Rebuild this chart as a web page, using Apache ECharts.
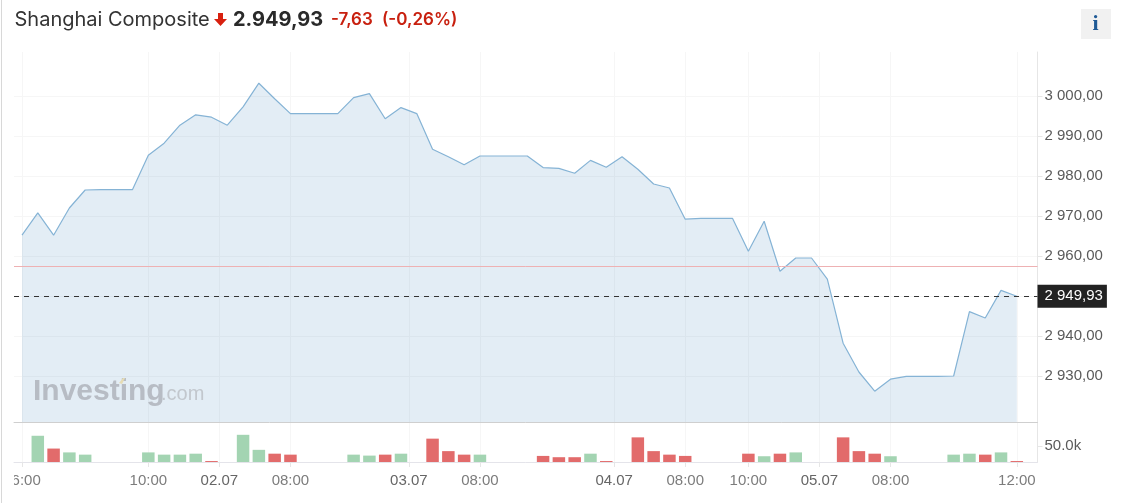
<!DOCTYPE html>
<html>
<head>
<meta charset="utf-8">
<style>html,body{margin:0;padding:0;background:#fff}#c{width:1122px;height:503px}</style>
<script src="https://cdn.jsdelivr.net/npm/echarts@6/dist/echarts.min.js"></script>
</head>
<body>
<div id="c"></div>
<script>
var prices = [2965.2,2970.8,2965.2,2972,2976.5,2976.6,2976.6,2976.6,2985.2,2988.2,2992.7,2995.3,2994.7,2992.7,2997.3,3003.2,2999.3,2995.6,2995.6,2995.6,2995.6,2999.6,3000.6,2994.3,2997.1,2995.6,2986.7,2984.8,2982.8,2985,2985,2985,2985,2982.1,2981.9,2980.7,2983.9,2982.2,2984.8,2981.7,2978,2977,2969.2,2969.4,2969.4,2969.4,2961.2,2968.7,2956.2,2959.5,2959.5,2954.2,2938.2,2931,2926.2,2929.2,2929.9,2929.9,2929.9,2930,2946.1,2944.5,2951.4,2949.93];
var volumes = [0,82,42,30,23,0,0,0,30,23,23,26,3,0,85,38,26,23,0,0,0,23,20,23,26,0,73,34,23,23,0,0,0,19,15,15,26,3,0,77,34,23,19,0,0,0,26,18,26,30,0,0,77,34,26,18,0,0,0,23,26,23,30,3];
var volumeUp = [0,1,0,1,1,0,0,0,1,1,1,1,0,0,1,1,0,0,0,0,0,1,1,0,1,0,0,0,0,1,0,0,0,0,0,0,1,0,0,0,0,0,0,0,0,0,0,1,0,1,0,0,0,0,0,1,0,0,0,1,1,0,1,0];
var xTickPositions = [0,8,12.5,17,24.5,29,37.5,42,46,50.5,55,63];
var xTickLabels = ['06:00','10:00','02.07','08:00','03.07','08:00','04.07','08:00','10:00','05.07','08:00','12:00'];
var priceTicks = [2930,2940,2950,2960,2970,2980,2990,3000];
var priceTickLabels = ['2 930,00','2 940,00','','2 960,00','2 970,00','2 980,00','2 990,00','3 000,00'];
var volumeTicks = [50];
var lastPrice = 2949.93;
var prevClose = 2957.56;

var FONT = '"Liberation Sans",Arial,sans-serif';
var X_MIN = -0.507, X_MAX = 64.31;
var GRID = '#f6f6f6', AXIS = '#e6e6e6';

var chart = echarts.init(document.getElementById('c'), null, {renderer:'canvas'});
chart.setOption({
  animation:false,
  backgroundColor:'#fff',
  grid:[
    {left:14, width:1023.5, top:52, height:370},
    {left:14, width:1023.5, top:423, height:39}
  ],
  xAxis:[
    {type:'value', gridIndex:0, min:X_MIN, max:X_MAX,
     axisLine:{show:true, onZero:false, lineStyle:{color:'#cfcfcf'}},
     axisTick:{show:false, customValues:xTickPositions},
     axisLabel:{show:false, customValues:xTickPositions},
     splitLine:{show:true, lineStyle:{color:GRID}}},
    {type:'value', gridIndex:1, min:X_MIN, max:X_MAX,
     axisLine:{show:true, onZero:false, lineStyle:{color:'#e4e4ea'}},
     axisTick:{show:true, length:5, lineStyle:{color:AXIS}, customValues:xTickPositions},
     axisLabel:{show:true, customValues:xTickPositions, margin:11, hideOverlap:false,
       showMinLabel:true, showMaxLabel:true,
       fontFamily:FONT, fontSize:15,
       formatter:function(v){
         var t = xTickLabels[xTickPositions.indexOf(v)];
         return t.indexOf('.')>0 ? '{d|'+t+'}' : t;
       },
       color:'#7c7c7c',
       rich:{d:{color:'#666', fontFamily:FONT, fontSize:15}}},
     splitLine:{show:true, lineStyle:{color:GRID}}}
  ],
  yAxis:[
    {type:'value', gridIndex:0, position:'right', min:2918.5, max:3011,
     axisLine:{show:true, onZero:false, lineStyle:{color:AXIS}},
     axisTick:{show:true, length:5, lineStyle:{color:AXIS}, customValues:priceTicks},
     axisLabel:{show:true, customValues:priceTicks, margin:7, fontFamily:FONT, fontSize:15, color:'#5a5a5a', padding:[3,0,0,0],
       formatter:function(v){return priceTickLabels[priceTicks.indexOf(v)];}},
     splitLine:{show:true, lineStyle:{color:GRID}}},
    {type:'value', gridIndex:1, position:'right', min:0, max:121.9,
     axisLine:{show:true, onZero:false, lineStyle:{color:AXIS}},
     axisTick:{show:true, length:5, lineStyle:{color:AXIS}, customValues:volumeTicks},
     axisLabel:{show:true, customValues:volumeTicks, margin:7, fontFamily:FONT, fontSize:15, color:'#5a5a5a', padding:[3,0,0,0],
       formatter:function(v){return v.toFixed(1)+'k';}},
     splitLine:{show:false}}
  ],
  series:[
    {type:'line', xAxisIndex:0, yAxisIndex:0, symbol:'none', silent:true,
     data:prices.map(function(v,i){return [i,v];}),
     lineStyle:{color:'#85b3d5', width:1.2},
     areaStyle:{color:'rgba(100,155,200,0.18)', opacity:1, origin:'start'},
     markLine:{silent:true, symbol:'none', animation:false,
       data:[
         {yAxis:prevClose, lineStyle:{color:'#eeb1b3', type:'solid', width:1}, label:{show:false}},
         {yAxis:lastPrice, lineStyle:{color:'#333', type:[5,5], width:1},
          label:{show:true, position:'end', distance:0, formatter:'2 949,93',
            color:'#fff', backgroundColor:'#222', fontFamily:FONT, fontSize:15,
            padding:[5,4,3,7], lineHeight:15}}
       ]}},
    {type:'bar', xAxisIndex:1, yAxisIndex:1, barWidth:12.5, silent:true,
     data:volumes.map(function(v,i){return [i,v];}).filter(function(d){return d[1]>0;}),
     itemStyle:{color:function(p){return volumeUp[p.value[0]]?'#a3d4b2':'#e26b6b';}}}
  ],
  graphic:[
    {type:'rect', z:100, shape:{x:2,y:465,width:12,height:30}, style:{fill:'#fff'}},
    {type:'rect', z:101, shape:{x:1,y:0,width:1,height:503}, style:{fill:'#d8d8d8'}},
    {type:'text', z:101, x:14.5, y:10, style:{text:'Shanghai Composite', font:'20px Inter,sans-serif', fill:'#333'}},
    {type:'polygon', z:101, shape:{points:[[218,13],[223,13],[223,19],[227,19],[220.5,26],[214,19],[218,19]]}, style:{fill:'#d8200f'}},
    {type:'text', z:101, x:233, y:10, style:{text:'2.949,93', font:'bold 20px Inter,sans-serif', fill:'#2a2a2a'}},
    {type:'text', z:101, x:331, y:11, style:{text:'-7,63', font:'600 17px Inter,sans-serif', fill:'#c8200f'}},
    {type:'text', z:101, x:382, y:11, style:{text:'(-0,26%)', font:'600 17px Inter,sans-serif', fill:'#c8200f'}},
    {type:'rect', z:101, shape:{x:1081,y:9,width:30,height:30}, style:{fill:'#f1f1f1'}},
    {type:'text', z:102, x:1095.5, y:13, style:{text:'i', font:'bold 22px "Liberation Serif",serif', fill:'#1f5a96', align:'center'}},
    {type:'text', z:50, x:33, y:377, style:{text:'Investing', font:'bold 30px "Liberation Sans",Arial,sans-serif', fill:'#b7bcc4'}},
    {type:'polygon', z:51, shape:{points:[[119,383],[123,378],[125,378],[122,384]]}, style:{fill:'#e6dcb4'}},
    {type:'text', z:50, x:161, y:384, style:{text:'.com', font:'20px "Liberation Sans",Arial,sans-serif', fill:'#c2c7cd'}}
  ]
});
</script>
</body>
</html>
